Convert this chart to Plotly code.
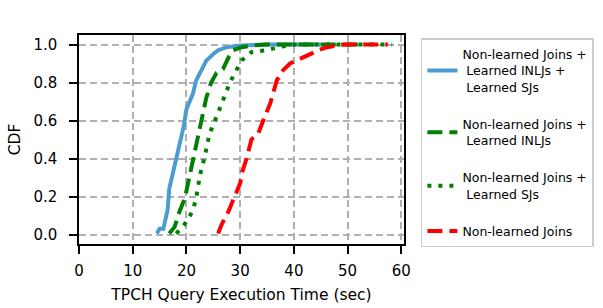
import plotly.graph_objects as go

# CDF curves (x = seconds, y = CDF)
NB = "\u00a0"
labels = [
    f"Non-learned Joins +<br>{NB}Learned INLJs +<br>{NB}Learned SJs",
    f"Non-learned Joins +<br>{NB}Learned INLJs",
    f"Non-learned Joins +<br>{NB}Learned SJs",
    "Non-learned Joins",
]

blue_x = [14.5, 15.0, 15.7, 16.1, 16.5, 16.8, 17.8, 18.2, 18.7, 19.5, 20.0, 20.6, 21.2, 21.8, 22.8, 23.7, 25.0, 25.9, 27.4, 30.0, 35.0, 45.0]
blue_y = [0.005, 0.03, 0.03, 0.08, 0.13, 0.24, 0.36, 0.41, 0.47, 0.57, 0.66, 0.70, 0.74, 0.81, 0.865, 0.915, 0.95, 0.97, 0.985, 0.995, 1.0, 1.0]

inlj_x = [16.8, 17.8, 18.7, 19.7, 20.6, 21.5, 22.5, 23.2, 23.7, 24.6, 25.6, 26.8, 27.8, 28.7, 30.3, 32.4, 35.0, 52.0]
inlj_y = [0.005, 0.04, 0.12, 0.19, 0.31, 0.43, 0.55, 0.66, 0.72, 0.80, 0.85, 0.87, 0.93, 0.97, 0.986, 0.995, 1.0, 1.0]

sj_x = [18.1, 19.3, 20.3, 21.2, 21.8, 22.5, 23.4, 24.3, 25.6, 26.8, 28.1, 29.3, 30.3, 32.1, 35.0, 37.1, 40.0, 58.3]
sj_y = [0.005, 0.04, 0.08, 0.127, 0.19, 0.31, 0.41, 0.53, 0.62, 0.71, 0.80, 0.865, 0.917, 0.96, 0.97, 0.986, 1.0, 1.0]

nl_x = [25.9, 26.5, 27.8, 29.0, 30.0, 30.4, 31.2, 32.1, 33.4, 34.3, 35.6, 36.8, 38.0, 39.3, 41.2, 42.8, 44.6, 46.2, 49.3, 57.5]
nl_y = [0.005, 0.05, 0.12, 0.20, 0.27, 0.33, 0.40, 0.50, 0.535, 0.60, 0.69, 0.81, 0.865, 0.90, 0.925, 0.95, 0.97, 0.986, 1.0, 1.0]

x_ticks = [0, 10, 20, 30, 40, 50, 60]
y_ticks = [0.0, 0.2, 0.4, 0.6, 0.8, 1.0]

series = [
    (blue_x, blue_y, labels[0], "#4b9cd3", "solid"),
    (inlj_x, inlj_y, labels[1], "#008000", "15px,7px"),
    (sj_x, sj_y, labels[2], "#008000", "4px,7px"),
    (nl_x, nl_y, labels[3], "#ff0000", "15px,7px"),
]

fig = go.Figure()
for i, (xs, ys, name, color, dash) in enumerate(series):
    fig.add_trace(go.Scatter(
        x=xs, y=ys, mode="lines", name=name, legendgroup=f"g{i}",
        line=dict(color=color, width=4, dash=dash),
    ))

font = "DejaVu Sans"
axis_common = dict(
    showline=True, mirror=True, linecolor="black", linewidth=1.5,
    ticks="outside", ticklen=8, tickwidth=1.5, tickcolor="black",
    showgrid=True, gridcolor="#b0b0b0", gridwidth=1.5, griddash="7px,4px",
    zeroline=False, tickfont=dict(family=font, size=15, color="black"),
)

fig.update_layout(
    width=603, height=308,
    margin=dict(l=79, r=199, t=35, b=64, autoexpand=False),
    paper_bgcolor="white", plot_bgcolor="white",
    font=dict(family=font, color="black"),
    xaxis=dict(range=[0, 60.5], tickvals=x_ticks, ticktext=[str(v) for v in x_ticks],
               title=dict(text="TPCH Query Execution Time (sec)", font=dict(size=15.5), standoff=10),
               ticklabelstandoff=4, automargin=False, **axis_common),
    yaxis=dict(range=[-0.05, 1.05], tickvals=y_ticks, ticktext=[f"{v:.1f}" for v in y_ticks],
               title=dict(text="CDF", font=dict(size=15.5), standoff=9),
               ticklabelstandoff=9, automargin=False, **axis_common),
    legend=dict(
        x=1.052, y=0.985, xanchor="left", yanchor="top",
        bordercolor="#cccccc", borderwidth=1.5, bgcolor="white",
        font=dict(family=font, size=12.5, color="black"),
        itemwidth=30, tracegroupgap=18, valign="middle", maxheight=280,
    ),
    showlegend=True,
)

fig.write_html("out.html", config={"displayModeBar": False},
               post_script="document.body.style.margin='0';")
